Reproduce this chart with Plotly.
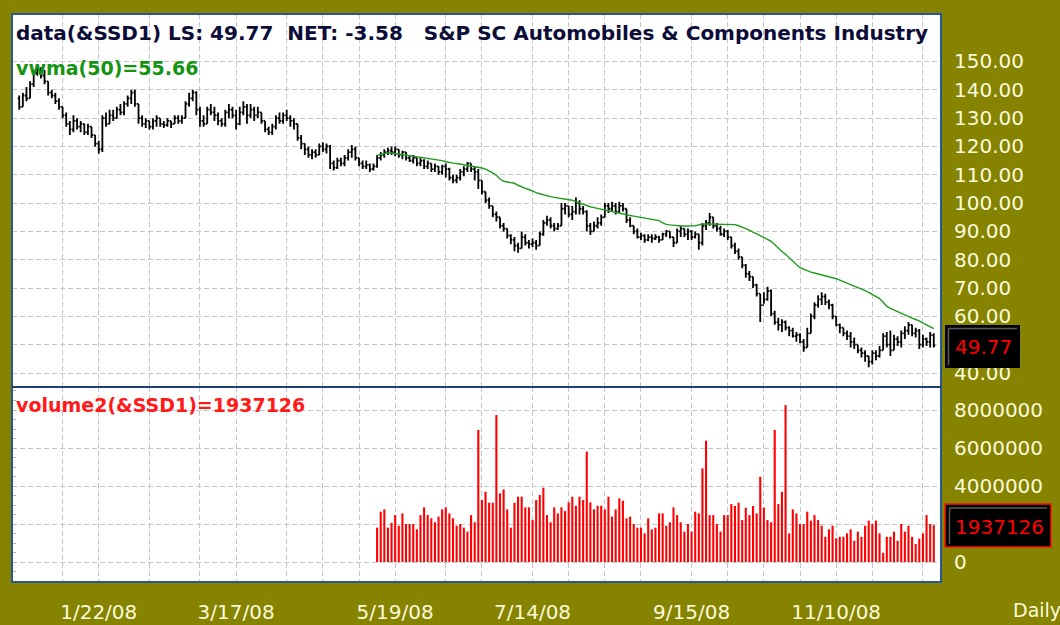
import pandas as pd
import plotly.graph_objects as go

# ---------------- data ----------------
holidays = ["2007-12-25", "2008-01-01", "2008-01-21", "2008-02-18", "2008-03-21",
            "2008-05-26", "2008-07-04", "2008-09-01", "2008-11-27", "2008-12-25"]
trade_days = pd.bdate_range("2007-12-18", "2008-12-18", freq="C", holidays=holidays)
dates = [f"{d.month}/{d.day}/{d.strftime('%y')}" for d in trade_days]

price_open = [
    137, 134, 138, 137, 142, 146, 147, 145, 143, 139,
    138, 136, 134, 131, 128, 126, 129, 127, 128, 125,
    127, 124, 121, 119, 130, 128, 131, 130, 133, 132,
    135, 137, 139, 135, 130, 128, 129, 127, 129, 130,
    128, 127.5, 129, 128, 130, 129, 130, 135, 137, 139,
    133, 129, 128, 133, 132, 131, 129, 128, 132, 133,
    131, 128, 132, 134, 131, 133, 131, 132, 129, 126,
    125, 127, 130, 129, 131, 130, 129, 128, 123, 121,
    119, 117, 118, 117, 120, 119, 120, 114, 112.5, 115,
    114, 116, 118, 119, 116, 114, 113, 113.5, 112, 113,
    116, 117, 118, 118.5, 118, 119, 117, 118, 116, 115,
    116, 114, 115, 113, 114, 112, 113, 111, 113, 112,
    109, 108, 109, 111, 112, 114, 112, 111, 108, 104,
    101, 99, 96, 95, 92, 91, 88.5, 87, 85, 84,
    88, 86, 85.5, 86, 85, 89, 93, 94, 92, 91,
    92, 98, 99, 96, 97, 100, 98, 97, 92, 90,
    92, 93, 95, 99, 98, 99, 97, 99, 98, 94,
    92, 90, 88, 88.5, 87, 88, 87.5, 88, 87, 89,
    90, 88, 86, 90, 91, 89, 90, 88, 89, 86,
    92, 93, 95, 92, 91, 89, 90, 88, 85, 83,
    81, 78, 75, 74, 71, 68, 64, 66, 69, 61,
    58, 57, 58, 56, 55, 53, 53.5, 51, 49, 54,
    60, 64, 66, 67, 65, 64, 60, 57, 56, 54,
    53, 51, 50, 48, 47, 46, 44, 47, 46, 48,
    53, 50, 48, 52, 51, 54, 55, 57, 54, 55,
    50, 52, 51, 53.35,
]
price_high = [
    138, 139, 141, 143, 147, 149, 148, 147, 143, 140,
    139, 137, 134, 132, 129, 131, 130, 129, 128, 128,
    127, 124, 122, 131, 132, 133, 133, 134, 135, 136,
    138, 140, 140, 135, 131, 130, 129, 130, 131, 130,
    129, 130, 129, 131, 131, 131, 136, 139, 140, 139.5,
    134, 131, 134, 135, 134, 132, 130, 133, 135, 134,
    133, 134, 136, 135, 135, 134, 134, 132, 129, 127,
    128, 131, 132, 132, 133, 131, 130, 128, 124, 121,
    120, 119, 119, 121, 121.5, 121, 120.5, 115, 116, 116,
    117, 119, 120.5, 120, 116, 115, 115, 114, 114, 117,
    118, 119, 119.5, 120, 120, 119, 118.5, 118, 117, 117,
    116, 116, 115.5, 115, 114, 114, 113, 113.5, 114, 112.5,
    110, 110, 112, 113, 114.5, 114, 113, 112, 108, 104,
    102, 99, 97, 95, 93, 91, 89, 88, 86, 90,
    89, 87, 87.5, 87, 90, 94, 95.5, 95, 93, 93,
    100, 100, 99, 99, 102, 101, 99, 97.5, 93, 93.5,
    95, 96, 100, 100, 100.5, 100, 100.5, 100, 98, 95,
    92, 91, 89.5, 89, 89, 89, 89, 88.5, 89.5, 90.5,
    90, 88, 91, 92, 91, 91, 90.5, 90, 89, 93,
    94, 96.5, 95, 93, 92, 91, 90.5, 88, 86, 84,
    81, 78.5, 76, 74, 71.5, 68, 68.5, 70.5, 69.5, 62,
    59.5, 59, 58.5, 56.5, 56, 54.5, 54, 52, 56, 61,
    65, 67.5, 68.5, 68, 66, 64.5, 60, 57.5, 56, 55,
    54.5, 52.5, 50, 49, 48, 46, 48, 48, 49.5, 54,
    54.5, 55, 53.5, 53, 55, 56.5, 58, 57, 56, 55.5,
    53.5, 52.5, 54.5, 54,
]
price_low = [
    133, 134, 136, 137, 141, 145, 144, 142, 138, 137,
    135, 133, 130, 127, 124, 125, 126, 125, 124, 124,
    123, 120, 117.5, 118, 127, 128, 129, 130, 131, 131,
    134, 135, 134, 128, 127, 126.5, 126, 126, 127, 127,
    126.5, 127, 126.5, 128, 128, 128, 130, 134, 136, 131,
    127, 127, 128, 131, 129, 127.5, 127, 127, 130, 130,
    126, 127.5, 131, 128, 130, 129, 130, 128, 125, 124,
    124, 126, 128, 128, 129, 127, 126, 122, 119, 117,
    116, 115.5, 116, 117, 118, 117.5, 112, 111.5, 112, 113,
    113, 115, 116, 115, 113, 112, 112, 111, 111.5, 112.5,
    115, 116, 117, 117, 116.5, 116, 115.5, 115, 114.5, 114,
    113, 113, 112, 112, 111, 111, 110, 110, 109, 108,
    107, 107, 108, 109.5, 111, 111, 108, 105, 103, 100,
    98, 95, 93.5, 91, 90, 87.5, 85.5, 83, 82.5, 84,
    85, 84, 84.5, 83.5, 85, 88.5, 92, 91, 90, 90.5,
    92, 96, 95, 94, 96, 96, 96, 90, 88.7, 90,
    91, 92, 95, 96.5, 97, 96, 96.5, 97, 93, 91.5,
    89, 87.5, 87, 86, 86.5, 86, 87, 86, 87, 88,
    87.5, 84.5, 86, 88, 88, 87, 87, 87.5, 83.5, 85,
    90.5, 92, 91, 90, 88.5, 88, 87, 84, 82, 80,
    77, 73.6, 72.5, 70, 67, 58, 64.5, 65.5, 60, 57,
    55, 54.5, 55, 53, 52.5, 51, 50.5, 47.5, 49, 54,
    59, 63, 64, 64, 62.5, 59, 56.5, 54, 53, 51.7,
    49, 48.5, 47, 45.5, 44, 42, 43, 44.5, 45.5, 48,
    49, 46, 48, 49.5, 49, 52, 53.5, 53, 52.5, 48.5,
    49, 49.5, 49, 49,
]
price_close = [
    134, 138, 137, 142, 146, 147, 145, 143, 139, 138,
    136, 134, 131, 128, 126, 129, 127, 128, 125, 127,
    124, 121, 119, 130, 128, 131, 130, 133, 132, 135,
    137, 139, 135, 130, 128, 129, 127, 129, 130, 128,
    127.5, 129, 128, 130, 129, 130, 135, 137, 139, 133,
    129, 128, 133, 132, 131, 129, 128, 132, 133, 131,
    128, 132, 134, 131, 133, 131, 132, 129, 126, 125,
    127, 130, 129, 131, 130, 129, 128, 123, 121, 119,
    117, 118, 117, 120, 119, 120, 114, 112.5, 115, 114,
    116, 118, 119, 116, 114, 113, 113.5, 112, 113, 116,
    117, 118, 118.5, 118, 119, 117, 118, 116, 115, 116,
    114, 115, 113, 114, 112, 113, 111, 113, 112, 109,
    108, 109, 111, 112, 114, 112, 111, 108, 104, 101,
    99, 96, 95, 92, 91, 88.5, 87, 85, 84, 88,
    86, 85.5, 86, 85, 89, 93, 94, 92, 91, 92,
    98, 99, 96, 97, 100, 98, 97, 92, 90, 92,
    93, 95, 99, 98, 99, 97, 99, 98, 94, 92,
    90, 88, 88.5, 87, 88, 87.5, 88, 87, 89, 90,
    88, 86, 90, 91, 89, 90, 88, 89, 86, 92,
    93, 95, 92, 91, 89, 90, 88, 85, 83, 81,
    78, 75, 74, 71, 68, 64, 66, 69, 61, 58,
    57, 58, 56, 55, 53, 53.5, 51, 49, 54, 60,
    64, 66, 67, 65, 64, 60, 57, 56, 54, 53,
    51, 50, 48, 47, 46, 44, 47, 46, 48, 53,
    50, 48, 52, 51, 54, 55, 57, 54, 55, 50,
    52, 51, 53.35, 49.77,
]

# VWMA(50) and volume start on bar 99 (5/13/08)
series_start = 99
vwma50 = [
    116.8, 117.2, 117.6, 117.8, 117.7, 117.5, 117.3, 117.2, 117.1, 116.9,
    116.6, 116.4, 116.2, 116.0, 115.8, 115.6, 115.5, 115.3, 115.0, 114.6,
    114.3, 114.1, 114.0, 113.8, 113.6, 113.3, 113.1, 112.9, 112.7, 112.4,
    112.0, 111.4, 110.7, 109.8, 108.5, 107.7, 107.4, 107.2, 107.0, 106.3,
    105.7, 105.2, 104.8, 104.2, 103.7, 103.3, 102.9, 102.6, 102.3, 102.0,
    101.8, 101.6, 101.4, 101.2, 101.0, 100.5, 100.0, 99.5, 99.1, 98.7,
    98.4, 98.1, 97.8, 97.5, 97.2, 96.9, 96.6, 96.3, 96.1, 95.8,
    95.6, 95.4, 95.2, 95.0, 94.8, 94.6, 94.4, 94.1, 93.8, 93.0,
    92.5, 92.3, 92.1, 92.0, 91.9, 91.9, 91.9, 92.0, 92.0, 92.3,
    92.6, 92.6, 92.6, 92.6, 92.6, 92.6, 92.6, 92.6, 92.6, 92.4,
    92.0, 91.6, 91.0, 90.4, 89.8, 89.2, 88.5, 87.8, 87.2, 86.5,
    85.2, 84.0, 82.9, 81.9, 80.6, 79.4, 78.3, 77.2, 76.6, 76.0,
    75.6, 75.3, 75.0, 74.7, 74.4, 74.1, 73.8, 73.3, 72.8, 72.3,
    71.8, 71.2, 70.6, 70.1, 69.6, 69.1, 68.5, 67.8, 67.2, 66.3,
    65.0, 63.5, 62.8, 62.2, 61.7, 61.2, 60.6, 60.0, 59.4, 58.9,
    58.4, 57.6, 56.9, 56.2, 55.66,
]
# volume in millions of shares
volume_m = [
    1.81, 2.65, 2.77, 1.81, 2.07, 2.47, 1.91, 2.56, 2.0, 2.0,
    2.0, 1.72, 2.47, 2.88, 2.47, 2.3, 2.09, 2.39, 2.77, 2.88,
    2.56, 2.3, 1.91, 2.0, 1.81, 1.6, 2.47, 2.09, 6.95, 3.26,
    3.7, 3.12, 3.12, 7.74, 3.61, 3.82, 2.77, 1.81, 3.12, 3.44,
    3.44, 2.88, 2.88, 2.21, 3.26, 3.53, 3.91, 2.47, 2.09, 2.88,
    2.56, 2.88, 2.68, 3.14, 3.44, 2.96, 3.44, 3.26, 5.81, 3.14,
    2.77, 2.96, 2.96, 2.77, 3.44, 2.39, 2.77, 3.35, 3.23, 2.3,
    2.39, 2.0, 1.81, 1.81, 1.51, 2.3, 1.72, 1.81, 2.56, 2.56,
    1.91, 2.09, 2.88, 2.47, 2.09, 1.6, 2.0, 1.6, 2.65, 2.56,
    4.93, 6.39, 2.47, 2.47, 2.0,
    1.6, 2.47, 2.47, 3.05, 2.95, 3.12, 2.21, 2.86, 2.47, 2.95,
    2.56, 4.49, 2.86, 2.21, 2.09, 6.95, 3.05, 3.7, 8.26, 1.51,
    2.77, 2.56, 2.0, 2.0, 2.65, 2.18, 2.47, 2.21, 1.91, 1.33,
    1.72, 1.91, 1.25, 1.33, 1.33, 1.51, 1.72, 1.12, 1.6, 1.33,
    1.91, 2.18, 2.0, 2.18, 1.51, 0.49, 1.33, 1.33, 1.6, 1.12,
    2.0, 1.6, 1.91, 1.33, 0.95, 1.23, 1.51, 2.47, 2.0, 1.937126,
]

grid_dates = ["1/7/08", "1/22/08", "2/11/08", "3/3/08", "3/17/08", "4/7/08", "4/21/08",
              "5/5/08", "5/19/08", "6/9/08", "6/23/08", "7/14/08", "7/28/08", "8/11/08",
              "8/25/08", "9/15/08", "9/29/08", "10/13/08", "10/27/08", "11/10/08",
              "11/24/08", "12/15/08"]
label_dates = ["1/22/08", "3/17/08", "5/19/08", "7/14/08", "9/15/08", "11/10/08"]
price_ticks = [40, 50, 60, 70, 80, 90, 100, 110, 120, 130, 140, 150]
volume_ticks = [0, 2, 4, 6, 8]
volume_tick_text = ["0", "", "4000000", "6000000", "8000000"]

title_text = ("data(&amp;SSD1) LS: 49.77\u00a0\u00a0NET: -3.58\u00a0\u00a0\u00a0"
              "S&amp;P SC Automobiles &amp; Components Industry")
vwma_text = "vwma(50)=55.66"
vol_text = "volume2(&amp;SSD1)=1937126"
last_price_text = "49.77"
last_volume_text = "1937126"

assert len(dates) == len(price_close) == 254

# ---------------- style ----------------
W, H = 1060, 625
OLIVE = "#868300"
LABEL = "#fbfbdc"
GRID = "#c6c6ca"
BORDER = "#2a5694"
FONT = "DejaVu Sans"


def px(x):
    return x / W


def py(y):
    return 1 - y / H


left, right, top, mid, bottom = 12, 941, 14, 387, 582
xdom = [px(left), px(right)]

fig = go.Figure()
fig.add_trace(go.Ohlc(
    x=dates, open=price_open, high=price_high, low=price_low, close=price_close,
    increasing=dict(line=dict(color="black", width=1.8)),
    decreasing=dict(line=dict(color="black", width=1.8)),
    tickwidth=0.42, xaxis="x", yaxis="y", hoverinfo="skip", showlegend=False))
fig.add_trace(go.Scatter(
    x=dates[series_start:], y=vwma50, mode="lines",
    line=dict(color="#1f9c1f", width=1.4), xaxis="x", yaxis="y",
    hoverinfo="skip", showlegend=False))
fig.add_trace(go.Bar(
    x=dates[series_start:], y=volume_m, marker=dict(color="#ff0000", line=dict(width=0)),
    xaxis="x2", yaxis="y2", hoverinfo="skip", showlegend=False))

xcommon = dict(
    type="category", categoryorder="array", categoryarray=dates,
    range=[-2.0, 255.0], domain=xdom, tickmode="array", tickvals=grid_dates,
    showgrid=True, gridcolor=GRID, griddash="5px,3px", gridwidth=1,
    zeroline=False, showline=False, fixedrange=True,
)
ticktext = [d if d in label_dates else "" for d in grid_dates]

fig.update_layout(
    width=W, height=H,
    margin=dict(l=0, r=0, t=0, b=0),
    paper_bgcolor=OLIVE, plot_bgcolor="white",
    bargap=0.42,
    showlegend=False,
    xaxis=dict(**xcommon, anchor="y", showticklabels=False, ticks="",
               rangeslider=dict(visible=False)),
    xaxis2=dict(**xcommon, anchor="y2", ticktext=ticktext, ticks="outside", ticklen=12,
                tickcolor="rgba(0,0,0,0)",
                tickfont=dict(family=FONT, size=20, color=LABEL)),
    yaxis=dict(domain=[py(mid), py(top)], range=[35.06, 166.77], side="right",
               anchor="x", tickmode="array", tickvals=price_ticks,
               ticktext=["" if v == 50 else f"{v:.2f}" for v in price_ticks],
               showgrid=True, gridcolor=GRID, griddash="5px,3px", gridwidth=1,
               zeroline=False, showline=False, ticks="outside", ticklen=8,
               tickcolor="rgba(0,0,0,0)", fixedrange=True,
               tickfont=dict(family=FONT, size=20, color=LABEL)),
    yaxis2=dict(domain=[py(bottom), py(mid)], range=[-1.05, 9.21], side="right",
                anchor="x2", tickmode="array", tickvals=volume_ticks, ticktext=volume_tick_text,
                showgrid=True, gridcolor=GRID, griddash="5px,3px", gridwidth=1,
                zeroline=False, showline=False, ticks="outside", ticklen=8,
                tickcolor="rgba(0,0,0,0)", fixedrange=True,
                tickfont=dict(family=FONT, size=20, color=LABEL)),
    yaxis3=dict(domain=[py(bottom), py(mid)], range=[-1.05, 9.21], overlaying="y2",
                side="left", anchor="x2", showgrid=False, zeroline=False,
                showticklabels=False, ticks="inside", ticklen=4, tickwidth=1,
                tickcolor="#b4b4b8", dtick=0.5, tick0=0, fixedrange=True),
)
# invisible carrier for yaxis3 ticks
fig.add_trace(go.Scatter(x=[dates[0]], y=[0], xaxis="x2", yaxis="y3", mode="markers",
                         marker=dict(opacity=0), hoverinfo="skip", showlegend=False))

shapes = [
    # panel frame and divider
    dict(type="rect", xref="paper", yref="paper", x0=px(left), x1=px(right),
         y0=py(bottom), y1=py(top), line=dict(color=BORDER, width=2), layer="above"),
    dict(type="line", xref="paper", yref="paper", x0=px(left), x1=px(right),
         y0=py(mid), y1=py(mid), line=dict(color="#1d3f78", width=2), layer="above"),
    # last price box
    dict(type="rect", xref="paper", yref="paper", x0=px(945), x1=px(1020),
         y0=py(368), y1=py(325), fillcolor="black", line=dict(width=0), layer="above"),
    dict(type="line", xref="paper", yref="paper", x0=px(948), x1=px(1017),
         y0=py(328.5), y1=py(328.5), line=dict(color="#5a5a5a", width=1.5), layer="above"),
    dict(type="line", xref="paper", yref="paper", x0=px(948.5), x1=px(948.5),
         y0=py(328.5), y1=py(365), line=dict(color="#5a5a5a", width=1.5), layer="above"),
    # last volume box
    dict(type="rect", xref="paper", yref="paper", x0=px(945), x1=px(1051),
         y0=py(547), y1=py(504), fillcolor="black", line=dict(color="#ff1010", width=1.5),
         layer="above"),
    dict(type="line", xref="paper", yref="paper", x0=px(949), x1=px(1047),
         y0=py(508), y1=py(508), line=dict(color="#5a5a5a", width=1.5), layer="above"),
    dict(type="line", xref="paper", yref="paper", x0=px(949.5), x1=px(949.5),
         y0=py(508), y1=py(544), line=dict(color="#5a5a5a", width=1.5), layer="above"),
]
fig.update_layout(shapes=shapes)

ann = [
    dict(text=title_text, x=px(14), y=py(33), xanchor="left", yanchor="middle",
         font=dict(family=FONT, size=20, color="#0c0c38", weight="bold")),
    dict(text=vwma_text, x=px(14), y=py(68), xanchor="left", yanchor="middle",
         font=dict(family=FONT, size=19, color="#139413", weight="bold")),
    dict(text=vol_text, x=px(14), y=py(405), xanchor="left", yanchor="middle",
         font=dict(family=FONT, size=19, color="#ff1a1a", weight="bold")),
    dict(text=last_price_text, x=px(983), y=py(347), xanchor="center", yanchor="middle",
         font=dict(family=FONT, size=20, color="#ff0000")),
    dict(text=last_volume_text, x=px(999), y=py(527), xanchor="center", yanchor="middle",
         font=dict(family=FONT, size=20, color="#ff0000")),
    dict(text="Daily", x=px(1011), y=py(610), xanchor="left", yanchor="middle",
         font=dict(family=FONT, size=19, color=LABEL)),
]
for a in ann:
    a.update(xref="paper", yref="paper", showarrow=False)
fig.update_layout(annotations=ann)

fig.write_html("out.html", config={"displayModeBar": False, "staticPlot": True},
               post_script="document.body.style.margin='0px';")
